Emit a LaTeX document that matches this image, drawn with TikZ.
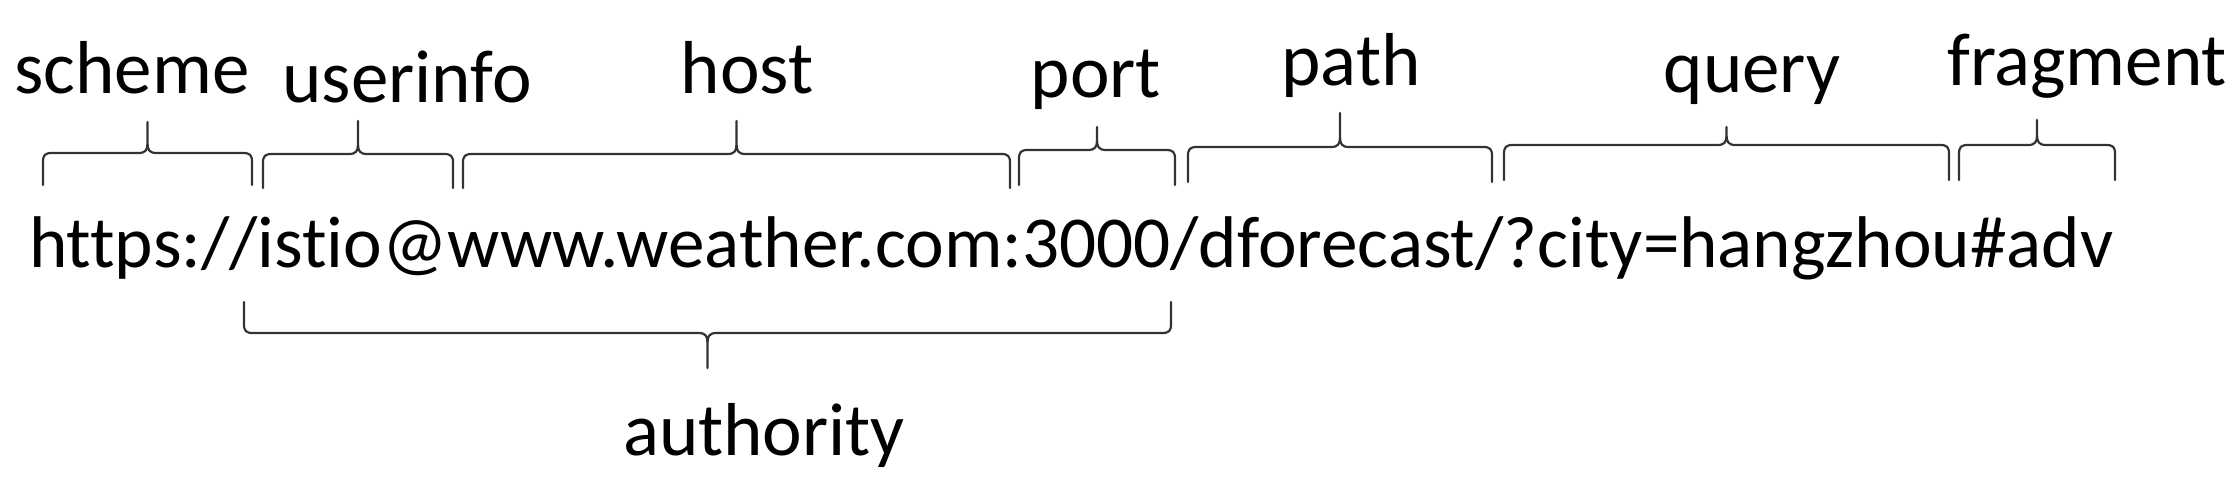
\documentclass[tikz,border=0pt]{standalone}
\usepackage{fontspec}
\setmainfont{Carlito}[Ligatures=NoCommon]
\tikzset{
  lbl/.style={anchor=base, inner sep=0pt, font=\fontsize{75}{90}\selectfont},
  urltext/.style={anchor=base west, inner sep=0pt, font=\fontsize{73.2}{90}\selectfont},
  brc/.style={draw=black!80, line width=2.2pt, line join=round, line cap=round},
}
% top brace: left, right, line y, leg bottom y, tip top y
\newcommand\topbrace[5]{%
  \pgfmathsetmacro\tipx{(#1+#2)/2}%
  \draw[brc] (#1,#4) -- (#1,#3+9) .. controls (#1,#3+2) and (#1+2,#3) .. (#1+9,#3)
    -- (\tipx-9,#3) .. controls (\tipx-2,#3) and (\tipx,#3-3) .. (\tipx,#3-10) -- (\tipx,#5)
    (\tipx,#3-10) .. controls (\tipx,#3-3) and (\tipx+2,#3) .. (\tipx+9,#3)
    -- (#2-9,#3) .. controls (#2-2,#3) and (#2,#3+2) .. (#2,#3+9) -- (#2,#4);%
}
% bottom brace: left, right, line y, leg top y, tip bottom y
\newcommand\botbrace[5]{%
  \pgfmathsetmacro\tipx{(#1+#2)/2}%
  \draw[brc] (#1,#4) -- (#1,#3-9) .. controls (#1,#3-2) and (#1+2,#3) .. (#1+9,#3)
    -- (\tipx-9,#3) .. controls (\tipx-2,#3) and (\tipx,#3+3) .. (\tipx,#3+10) -- (\tipx,#5)
    (\tipx,#3+10) .. controls (\tipx,#3+3) and (\tipx+2,#3) .. (\tipx+9,#3)
    -- (#2-9,#3) .. controls (#2-2,#3) and (#2,#3-2) .. (#2,#3-9) -- (#2,#4);%
}
\begin{document}
\begin{tikzpicture}[x=1pt,y=-1pt]
\useasboundingbox[fill=white] (0,0) rectangle (2232,490);

\node[urltext] (url) at (29,267) {https://istio@www.weather.com:3000/dforecast/?city=hangzhou\#adv};

\node[lbl] (scheme) at (132,93) {scheme};
\node[lbl] (userinfo) at (407,102) {userinfo};
\node[lbl] (host) at (747,93) {host};
\node[lbl] (port) at (1096,97) {port};
\node[lbl] (path) at (1351,85) {path};
\node[lbl] (query) at (1752,92) {query};
\node[lbl] (fragment) at (2087,85) {fragment};
\node[lbl] (authority) at (764,455) {authority};

\topbrace{43}{252}{153}{185}{122}
\topbrace{263}{453}{154}{188}{121}
\topbrace{463}{1010}{154}{188}{121}
\topbrace{1019}{1175}{150}{185}{127}
\topbrace{1188}{1492}{147}{182}{113}
\topbrace{1504}{1949}{145}{180}{127}
\topbrace{1959}{2115}{145}{180}{120}
\botbrace{244}{1171}{333}{302}{368}
\end{tikzpicture}
\end{document}
